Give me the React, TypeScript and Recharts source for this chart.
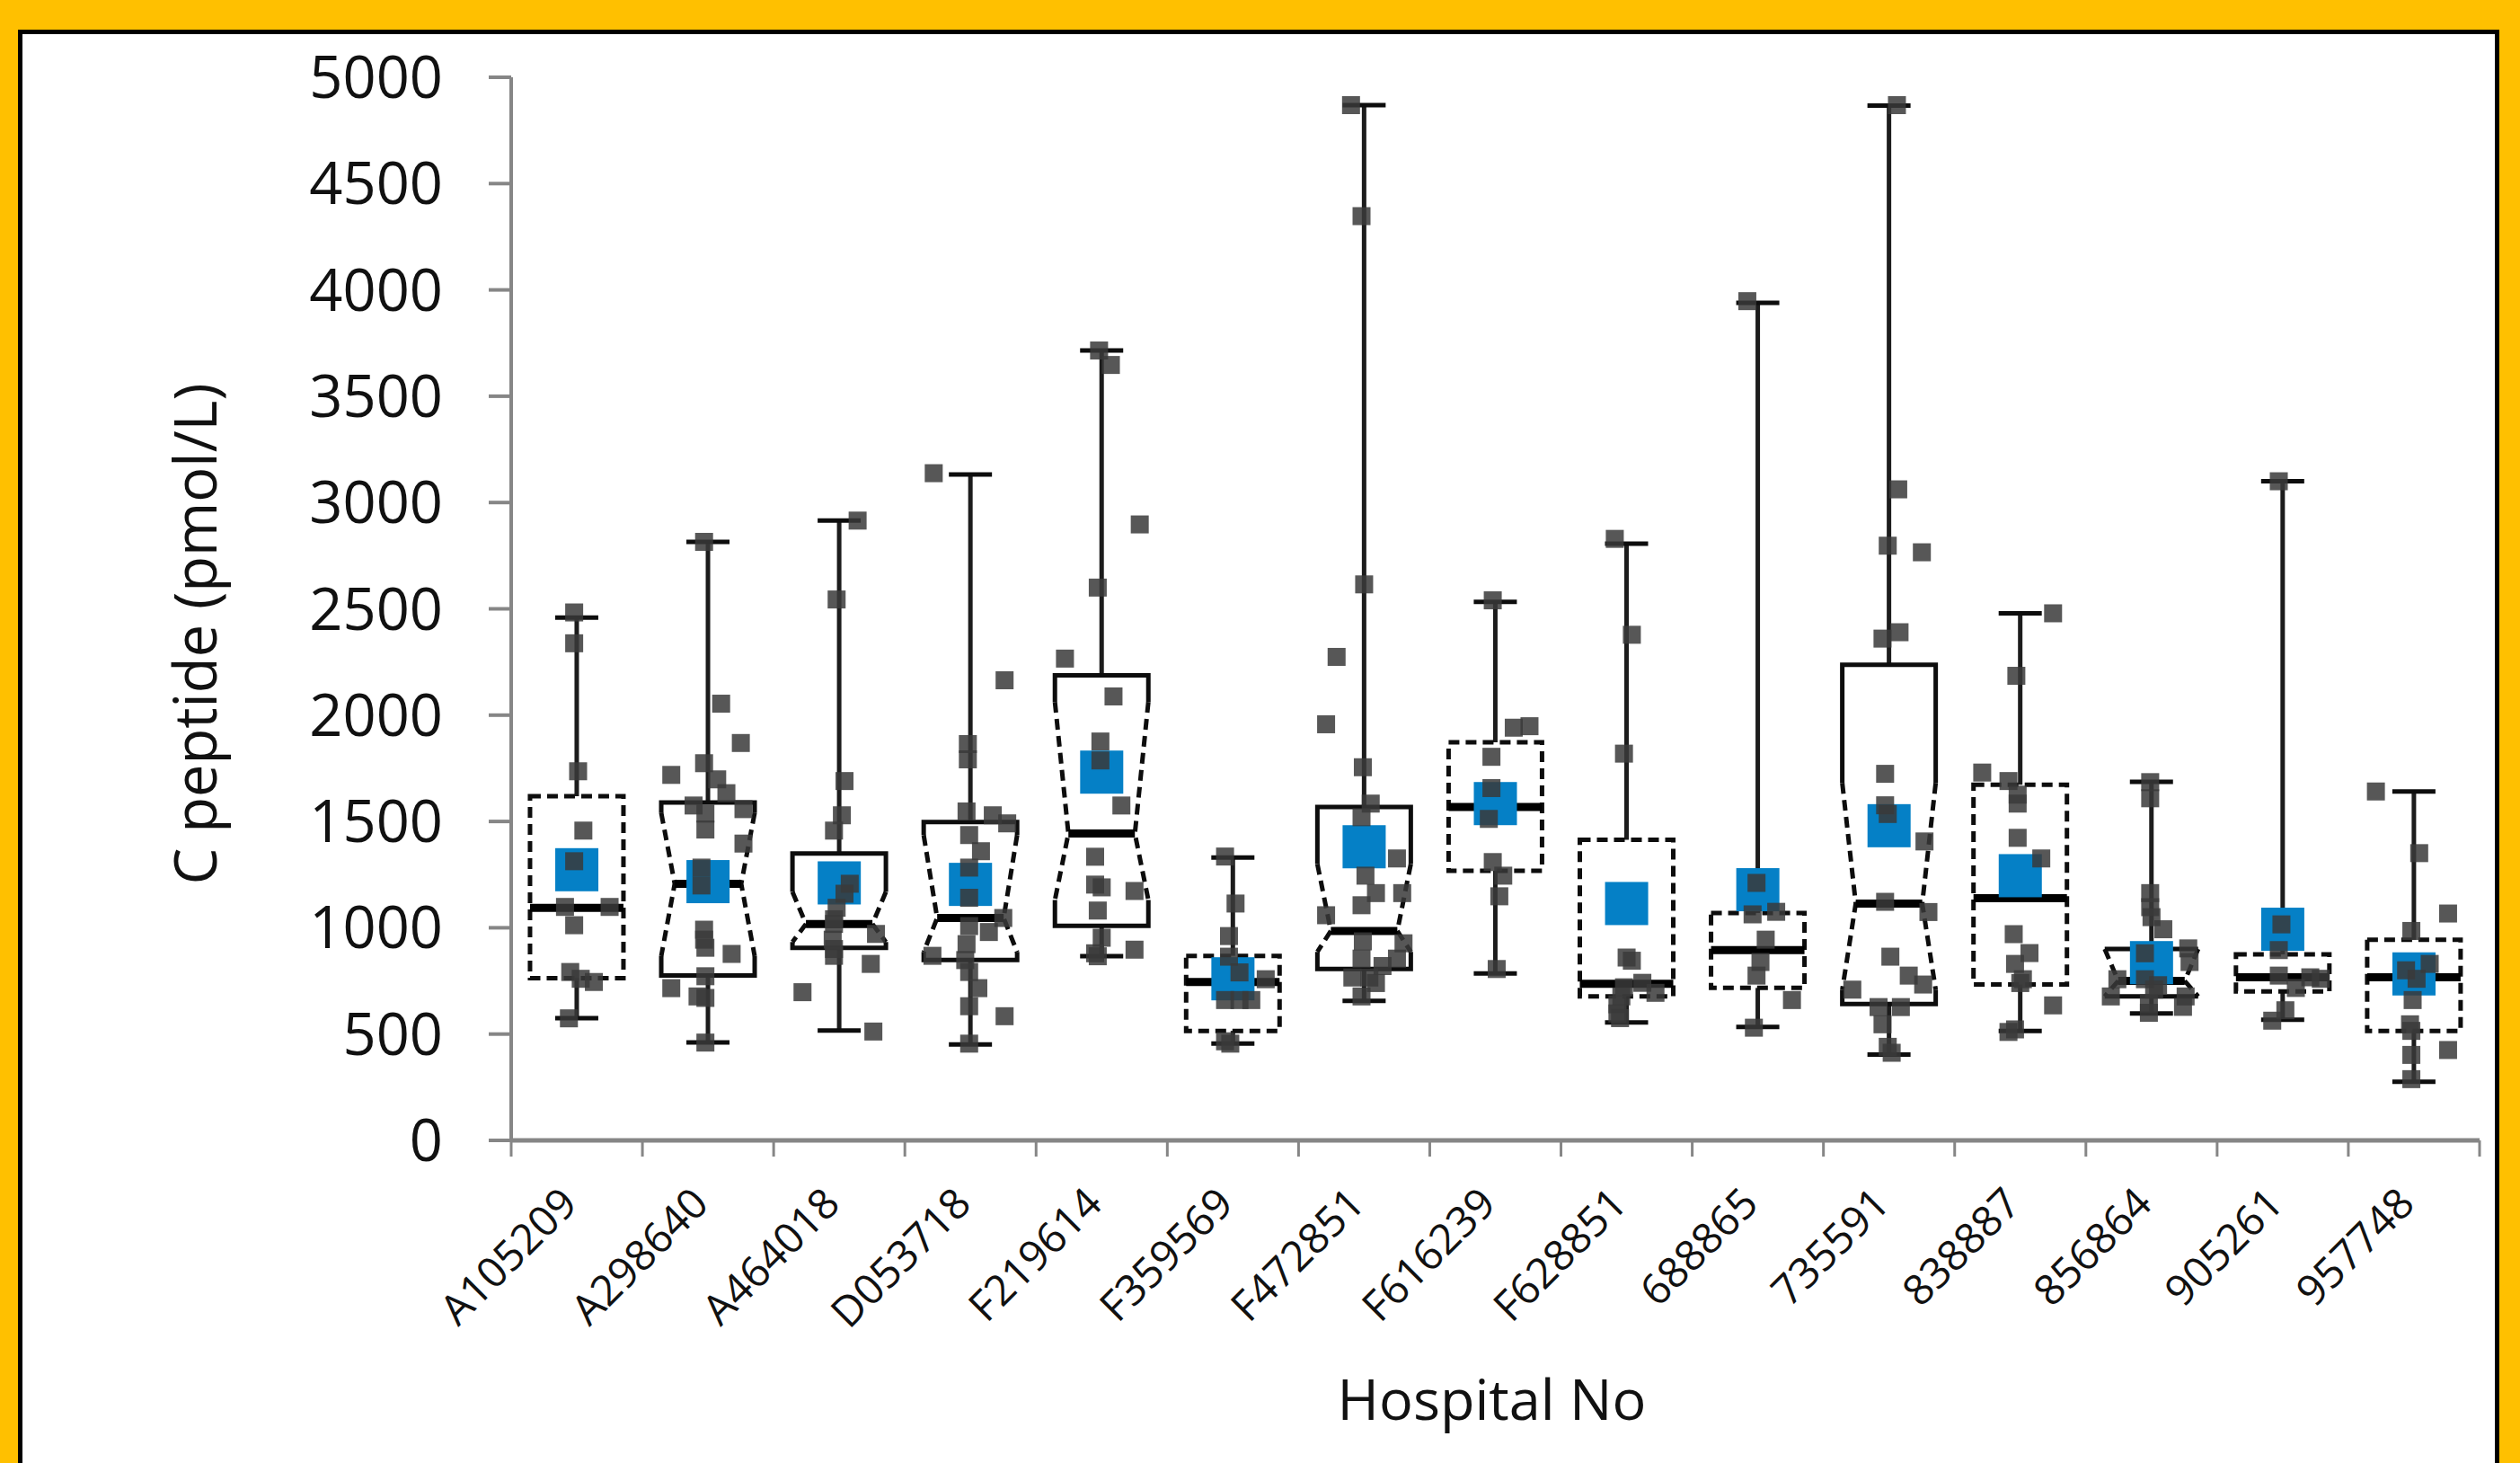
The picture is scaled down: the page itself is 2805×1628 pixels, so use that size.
import React from 'react';
import { ComposedChart, Bar, Scatter, XAxis, YAxis } from 'recharts';

// C peptide per hospital number: box stats
const hospitals = [
  'A105209', 'A298640', 'A464018', 'D053718', 'F219614', 'F359569', 'F472851', 'F616239',
  'F628851', '688865', '735591', '838887', '856864', '905261', '957748',
];
const whiskerLow = [575, 461, 517, 451, 866, 455, 656, 785, 555, 534, 404, 515, 597, 567, 276];
const quartile1 = [763, 776, 906, 848, 1009, 515, 806, 1268, 677, 717, 641, 733, 677, 701, 515];
const medians = [1094, 1207, 1018, 1046, 1443, 745, 985, 1568, 737, 895, 1114, 1139, 750, 767, 767];
const quartile3 = [1619, 1589, 1349, 1497, 2187, 868, 1568, 1872, 1414, 1069, 2237, 1673, 900, 875, 944];
const whiskerHigh = [2459, 2815, 2915, 3132, 3715, 1330, 4869, 2533, 2806, 3939, 4867, 2479, 1686, 3100, 1641];
const means = [1273, 1217, 1211, 1204, 1732, 760, 1381, 1584, 1114, 1179, 1480, 1245, 836, 993, 783];
// notch limits; null = no notch drawn (box outlined dashed)
const notchLow = [null, 867, 933, 886, 1131, null, 887, null, null, null, 709, null, 677, null, null];
const notchHigh = [null, 1540, 1169, 1436, 2062, null, 1300, null, null, null, 1681, null, 900, null, null];

// individual readings, with horizontal jitter (in category widths)
const pointValues: number[][] = [
  [2483, 2338, 1736, 1457, 1313, 1098, 1098, 1012, 792, 760, 745, 574],
  [2815, 2054, 1869, 1774, 1719, 1698, 1633, 1575, 1558, 1537, 1462, 1396, 1283, 1199, 991, 944, 906, 877, 772, 716, 677, 670, 460],
  [2915, 2544, 1690, 1529, 1457, 1207, 1160, 1094, 1040, 1018, 971, 944, 900, 868, 830, 697, 512],
  [3138, 2164, 1864, 1792, 1547, 1529, 1491, 1436, 1360, 1283, 1141, 1046, 1008, 980, 923, 868, 848, 792, 716, 631, 584, 455],
  [3715, 3647, 2897, 2600, 2266, 2088, 1876, 1787, 1575, 1334, 1203, 1190, 1173, 1081, 953, 897, 880, 866],
  [1335, 1114, 961, 864, 790, 758, 660, 660, 660, 466, 455],
  [4869, 4347, 2615, 2274, 1957, 1755, 1584, 1520, 1326, 1245, 1163, 1163, 1106, 1059, 936, 927, 855, 855, 820, 766, 766, 740, 677],
  [2540, 1948, 1941, 1804, 1657, 1512, 1309, 1245, 1148, 806],
  [2829, 2378, 1819, 860, 845, 741, 720, 694, 677, 640, 597, 575],
  [3947, 1211, 1075, 1063, 944, 839, 775, 660, 530],
  [4869, 3062, 2797, 2766, 2390, 2360, 1724, 1576, 1535, 1406, 1122, 1074, 864, 775, 733, 709, 627, 627, 546, 440, 412],
  [2479, 2185, 1730, 1690, 1626, 1584, 1423, 1326, 970, 881, 830, 758, 740, 635, 522, 510],
  [1685, 1609, 1163, 1097, 1050, 993, 903, 880, 839, 758, 758, 730, 709, 677, 677, 643, 628, 600],
  [3100, 1016, 895, 775, 767, 760, 717, 612, 563],
  [1641, 1351, 1067, 985, 830, 800, 760, 660, 546, 515, 425, 402, 288],
];
const pointJitter: number[][] = [
  [-0.02, -0.02, 0.01, 0.05, -0.02, -0.09, 0.25, -0.02, -0.05, 0.03, 0.13, -0.06],
  [-0.03, 0.1, 0.25, -0.03, -0.28, 0.07, 0.14, -0.11, 0.27, -0.02, -0.02, 0.27, -0.05, -0.05, -0.03, -0.03, -0.02, 0.18, -0.02, -0.28, -0.08, -0.02, -0.02],
  [0.14, -0.02, 0.04, 0.02, -0.04, 0.08, 0.04, -0.02, -0.04, -0.04, 0.28, -0.05, -0.04, -0.04, 0.24, -0.28, 0.26],
  [-0.28, 0.26, -0.02, -0.02, -0.03, 0.17, 0.28, -0.01, 0.08, -0.01, -0.01, 0.25, -0.01, 0.14, -0.03, -0.29, -0.04, -0.01, 0.06, -0.01, 0.26, -0.01],
  [-0.02, 0.07, 0.29, -0.03, -0.28, 0.09, -0.01, -0.01, 0.15, -0.05, -0.05, 0.0, 0.25, -0.03, 0.0, 0.25, -0.05, -0.03],
  [-0.06, 0.02, -0.03, -0.03, 0.05, 0.25, -0.06, 0.05, 0.14, -0.06, -0.02],
  [-0.1, -0.02, 0.0, -0.21, -0.29, -0.01, 0.05, -0.02, 0.25, 0.01, 0.09, 0.29, -0.02, -0.29, -0.01, 0.3, 0.25, -0.02, 0.14, -0.09, 0.04, 0.09, -0.02],
  [-0.02, 0.26, 0.14, -0.03, -0.03, -0.05, -0.02, 0.06, 0.03, 0.01],
  [-0.09, 0.04, -0.02, 0.0, 0.04, 0.12, -0.02, 0.22, -0.04, -0.07, -0.07, -0.05],
  [-0.08, -0.01, 0.14, -0.04, 0.06, 0.02, -0.01, 0.26, -0.03],
  [0.06, 0.07, -0.01, 0.25, 0.08, -0.05, -0.03, -0.03, -0.01, 0.27, -0.03, 0.3, 0.01, 0.15, 0.26, -0.28, -0.08, 0.09, -0.05, -0.01, 0.02],
  [0.25, -0.03, -0.29, -0.09, -0.02, -0.02, -0.02, 0.16, -0.05, 0.07, -0.04, 0.02, 0.0, 0.25, -0.04, -0.09],
  [-0.01, -0.01, -0.01, -0.01, 0.0, 0.09, 0.28, -0.05, 0.29, -0.26, -0.05, 0.05, 0.02, 0.26, -0.31, -0.02, 0.24, -0.02],
  [-0.03, -0.01, -0.03, -0.03, 0.21, 0.29, 0.1, 0.02, -0.08],
  [-0.29, 0.04, 0.26, -0.02, 0.12, -0.06, 0.02, -0.01, -0.03, -0.02, 0.26, -0.02, -0.02],
];

const yTicks = [0, 500, 1000, 1500, 2000, 2500, 3000, 3500, 4000, 4500, 5000];
const xTicks = [0, 0.5, 1, 1.5, 2, 2.5, 3, 3.5, 4, 4.5, 5, 5.5, 6, 6.5, 7, 7.5, 8, 8.5, 9, 9.5, 10, 10.5, 11, 11.5, 12, 12.5, 13, 13.5, 14, 14.5, 15];

const boxData = hospitals.map((name, i) => ({
  name,
  pos: i + 0.5,
  range: [whiskerLow[i], whiskerHigh[i]],
  lo: whiskerLow[i],
  q1: quartile1[i],
  med: medians[i],
  q3: quartile3[i],
  hi: whiskerHigh[i],
  nLo: notchLow[i],
  nHi: notchHigh[i],
}));
const meanData = hospitals.map((name, i) => ({ name, pos: i + 0.5, v: means[i] }));
const pointData = pointValues.flatMap((vals, i) =>
  vals.map((v, j) => ({ pos: i + 0.5 + pointJitter[i][j], v }))
);

const FONT = '"Open Sans", "Liberation Sans", sans-serif';
const AXIS_GREY = '#868686';
const BOX_W = 104;
const CAP_W = 48;
const NOTCH_IN = 15;

function BoxShape(props: any) {
  const { x, y, width, height, payload } = props;
  if (!payload) return null;
  const top = Math.min(y, y + height);
  const k = Math.abs(height) / (payload.hi - payload.lo);
  const Y = (v: number) => top + (payload.hi - v) * k;
  const cx = x + width / 2;
  const L = cx - BOX_W / 2;
  const R = cx + BOX_W / 2;
  const line = { stroke: '#0d0d0d', strokeWidth: 5, fill: 'none' };
  const notched = payload.nLo != null;

  return (
    <g>
      <line x1={cx} y1={Y(payload.hi)} x2={cx} y2={Y(payload.q3)} {...line} stroke="#1c1c1c" />
      <line x1={cx} y1={Y(payload.q1)} x2={cx} y2={Y(payload.lo)} {...line} stroke="#1c1c1c" />
      <line x1={cx - CAP_W / 2} y1={Y(payload.hi)} x2={cx + CAP_W / 2} y2={Y(payload.hi)} {...line} />
      <line x1={cx - CAP_W / 2} y1={Y(payload.lo)} x2={cx + CAP_W / 2} y2={Y(payload.lo)} {...line} />
      {notched ? (
        <g>
          <path
            d={`M${L},${Y(payload.nHi)} V${Y(payload.q3)} H${R} V${Y(payload.nHi)} M${L},${Y(payload.nLo)} V${Y(payload.q1)} H${R} V${Y(payload.nLo)}`}
            {...line}
          />
          <path
            d={`M${L},${Y(payload.nHi)} L${L + NOTCH_IN},${Y(payload.med)} L${L},${Y(payload.nLo)} M${R},${Y(payload.nHi)} L${R - NOTCH_IN},${Y(payload.med)} L${R},${Y(payload.nLo)}`}
            {...line}
            strokeDasharray="12 7"
          />
          <line x1={L + NOTCH_IN} y1={Y(payload.med)} x2={R - NOTCH_IN} y2={Y(payload.med)} stroke="#000" strokeWidth={9} />
        </g>
      ) : (
        <g>
          <rect x={L} y={Y(payload.q3)} width={BOX_W} height={Y(payload.q1) - Y(payload.q3)} {...line} strokeDasharray="12 7" />
          <line x1={L} y1={Y(payload.med)} x2={R} y2={Y(payload.med)} stroke="#000" strokeWidth={9} />
        </g>
      )}
    </g>
  );
}

const MeanShape = (props: any) => (
  <rect x={props.cx - 24} y={props.cy - 24} width={48} height={48} fill="#0580C6" />
);

const PointShape = (props: any) => (
  <rect x={props.cx - 10} y={props.cy - 10} width={20} height={20} fill="#3a3a3a" fillOpacity={0.85} />
);

function HospitalTick(props: any) {
  const { x, y, payload } = props;
  const v = payload.value;
  if (Number.isInteger(v)) {
    return <line x1={x} y1={y} x2={x} y2={y + 18} stroke={AXIS_GREY} strokeWidth={3} />;
  }
  const tx = x + 3;
  const ty = y + 73;
  return (
    <text x={tx} y={ty} transform={`rotate(-45 ${tx} ${ty})`} textAnchor="end" fontSize={47} fontFamily={FONT} fill="#111">
      {hospitals[Math.floor(v)]}
    </text>
  );
}

const XTitle = (props: any) => {
  const vb = props.viewBox;
  return (
    <text x={vb.x + vb.width / 2 - 4} y={vb.y + 286} textAnchor="middle" dominantBaseline="central" fontSize={63} fontFamily={FONT} fill="#111">
      Hospital No
    </text>
  );
};

const YTitle = (props: any) => {
  const vb = props.viewBox;
  const cx = 216;
  const cy = vb.y + vb.height / 2 + 28;
  return (
    <text x={cx} y={cy} transform={`rotate(-90 ${cx} ${cy})`} textAnchor="middle" dominantBaseline="central" fontSize={65} fontFamily={FONT} fill="#111">
      C peptide (pmol/L)
    </text>
  );
};

export default function App() {
  return (
    <div style={{ position: 'absolute', left: 0, top: 0, width: 2805, height: 1628, background: '#FFC000', overflow: 'hidden' }}>
      <div
        style={{
          position: 'absolute',
          left: 20,
          top: 33,
          width: 2762,
          height: 1700,
          background: '#fff',
          border: '5px solid #000',
          boxSizing: 'border-box',
        }}
      />
      <div style={{ position: 'absolute', left: 0, top: 0 }}>
        <ComposedChart width={2805} height={1628} data={boxData} margin={{ top: 86, right: 45, bottom: 59, left: 369 }}>
          <XAxis
            dataKey="pos"
            type="number"
            domain={[0, 15]}
            ticks={xTicks}
            interval={0}
            allowDataOverflow
            tickLine={false}
            tickSize={0}
            tickMargin={0}
            height={300}
            axisLine={{ stroke: AXIS_GREY, strokeWidth: 5 }}
            tick={<HospitalTick />}
            label={{ content: XTitle }}
          />
          <YAxis
            dataKey="v"
            type="number"
            domain={[0, 5000]}
            ticks={yTicks}
            interval={0}
            allowDataOverflow
            width={200}
            tickSize={25}
            tickMargin={51}
            axisLine={{ stroke: AXIS_GREY, strokeWidth: 4 }}
            tickLine={{ stroke: AXIS_GREY, strokeWidth: 4 }}
            tick={{ fontSize: 65, fontFamily: FONT, fill: '#111' }}
            label={{ content: YTitle }}
          />
          <Bar dataKey="range" barSize={BOX_W} shape={<BoxShape />} isAnimationActive={false} />
          <Scatter data={meanData} shape={<MeanShape />} isAnimationActive={false} />
          <Scatter data={pointData} shape={<PointShape />} isAnimationActive={false} />
        </ComposedChart>
      </div>
    </div>
  );
}
